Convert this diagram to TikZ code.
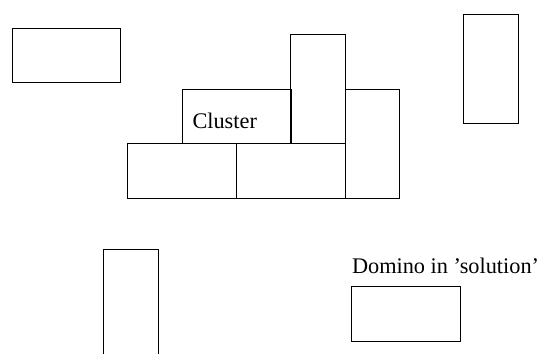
\documentclass[tikz,border=0pt]{standalone}
\usepackage{fontspec}
\newfontfamily\fa{Liberation Serif}
\begin{document}
\begin{tikzpicture}[x=1pt,y=-1pt,
  hdom/.style={draw=black,line width=0.9pt,rectangle,inner sep=0pt,minimum width=108.8pt,minimum height=54.4pt},
  vdom/.style={draw=black,line width=0.9pt,rectangle,inner sep=0pt,minimum width=54.4pt,minimum height=108.8pt},
  lbl/.style={font=\fa\fontsize{22.3}{26}\selectfont,inner sep=0pt,anchor=base west}]
\useasboundingbox (0,0) rectangle (540,353);
\node[hdom] (d1) at (66.4,55.3) {};
\node[vdom] (d2) at (491,68.9) {};
\node[hdom] (c1) at (236.6,116.5) {};
\node[vdom] (c2) at (318,89.3) {};
\node[vdom] (c3) at (372.3,143.7) {};
\node[hdom] (c4) at (181.8,170.9) {};
\node[hdom] (c5) at (290.6,170.9) {};
\node[vdom] (d3) at (130.8,303.7) {};
\node[hdom] (d4) at (406.2,313.9) {};
\node[lbl] (cl) at (192.3,128) {Cluster};
\node[lbl] (ds) at (351.8,273.3) {Domino in ’solution’};
\end{tikzpicture}
\end{document}
